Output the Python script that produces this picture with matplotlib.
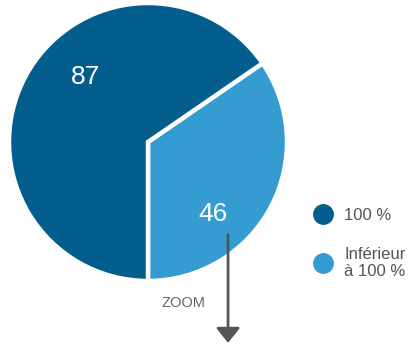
import matplotlib.pyplot as plt
from matplotlib.lines import Line2D

# counts per category
categories = ["100 %", "Inférieur\nà 100 %"]
values = [87, 46]
colors = ["#035e8d", "#349cd0"]

plt.rcParams['font.family'] = ['Liberation Sans', 'DejaVu Sans']

W, H = 417, 344
fig = plt.figure(figsize=(W / 100, H / 100), dpi=100)

# pie axes: centre (148,142) px from top-left, radius ~139 px
cx, cy, r = 148, 142, 139
ax = fig.add_axes([(cx - r) / W, (H - cy - r) / H, 2 * r / W, 2 * r / H])

# small slice first so it runs from 6 o'clock counter-clockwise
wedges, _ = ax.pie(values[::-1], colors=colors[::-1], startangle=-90,
                   counterclock=True, radius=1,
                   wedgeprops=dict(edgecolor="white", linewidth=3.2))
ax.set_xlim(-1, 1)
ax.set_ylim(-1, 1)
ax.set_aspect("equal")
ax.axis("off")

# value labels
ax.text(-0.45, 0.47, str(values[0]), color="white", fontsize=19,
        ha="center", va="center")
ax.text(0.47, -0.52, str(values[1]), color="white", fontsize=19,
        ha="center", va="center")

# zoom arrow
ax.annotate("", xy=(0.576, -1.445), xytext=(0.576, -0.665),
            annotation_clip=False,
            arrowprops=dict(arrowstyle="-|>,head_width=0.36,head_length=0.45",
                            mutation_scale=20, lw=2, color="#555555",
                            shrinkA=0, shrinkB=0))
ax.text(0.255, -1.155, "ZOOM", color="#666666", fontsize=10.5,
        ha="center", va="center", clip_on=False)

# legend
handles = [Line2D([], [], marker="o", linestyle="none", markersize=14,
                  markerfacecolor=c, markeredgecolor=c) for c in colors]
fig.legend(handles, categories, loc="upper left",
           bbox_to_anchor=(306 / W, 1 - 201 / H), frameon=False,
           fontsize=12, labelcolor="#555555", handletextpad=0.7,
           labelspacing=1.45, borderaxespad=0, handlelength=1.2)

fig.savefig("out.png", dpi=100)
